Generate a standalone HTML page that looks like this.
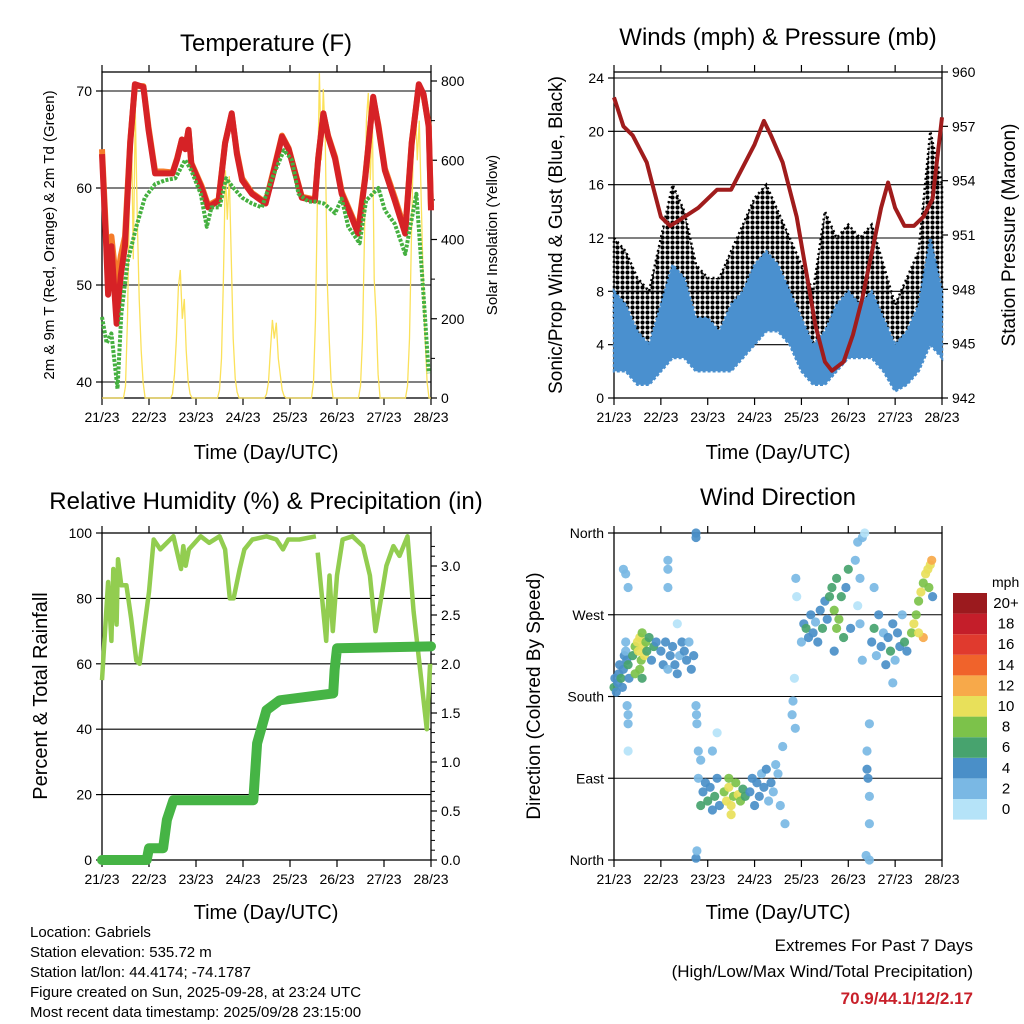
<!DOCTYPE html>
<html><head><meta charset="utf-8">
<style>
html,body{margin:0;padding:0;background:#fff;}
svg{display:block;font-family:"Liberation Sans",Arial,sans-serif;}
</style></head>
<body>
<svg id="chart" width="1024" height="1024" viewBox="0 0 1024 1024">
<defs>
<pattern id="gustdots" x="0" y="0" width="5" height="5" patternUnits="userSpaceOnUse">
<circle cx="2.5" cy="2.5" r="2.1" fill="#000"/>
</pattern>
</defs>
<rect x="0" y="0" width="1024" height="1024" fill="#fff"/>
<text x="266" y="51" font-size="24" text-anchor="middle">Temperature (F)</text>
<text x="778" y="45" font-size="24" text-anchor="middle">Winds (mph) &amp; Pressure (mb)</text>
<text x="266" y="509" font-size="24" text-anchor="middle">Relative Humidity (%) &amp; Precipitation (in)</text>
<text x="778" y="505" font-size="24" text-anchor="middle">Wind Direction</text>
<text x="266" y="459" font-size="20" text-anchor="middle">Time (Day/UTC)</text>
<text x="778" y="459" font-size="20" text-anchor="middle">Time (Day/UTC)</text>
<text x="266" y="919" font-size="20" text-anchor="middle">Time (Day/UTC)</text>
<text x="778" y="919" font-size="20" text-anchor="middle">Time (Day/UTC)</text>
<text transform="translate(54,235) rotate(-90)" font-size="15" text-anchor="middle">2m &amp; 9m T (Red, Orange) &amp; 2m Td (Green)</text>
<text transform="translate(497,235) rotate(-90)" font-size="15" text-anchor="middle">Solar Insolation (Yellow)</text>
<text transform="translate(562,235) rotate(-90)" font-size="19" text-anchor="middle">Sonic/Prop Wind &amp; Gust (Blue, Black)</text>
<text transform="translate(1015,235) rotate(-90)" font-size="19" text-anchor="middle">Station Pressure (Maroon)</text>
<text transform="translate(47,696) rotate(-90)" font-size="20" text-anchor="middle">Percent &amp; Total Rainfall</text>
<text transform="translate(540,696) rotate(-90)" font-size="19" text-anchor="middle">Direction (Colored By Speed)</text>
<g font-size="15">
<text x="30" y="937">Location: Gabriels</text>
<text x="30" y="957">Station elevation: 535.72 m</text>
<text x="30" y="977">Station lat/lon: 44.4174; -74.1787</text>
<text x="30" y="997">Figure created on Sun, 2025-09-28, at 23:24 UTC</text>
<text x="30" y="1017">Most recent data timestamp: 2025/09/28 23:15:00</text>
</g>
<text x="973" y="951" font-size="17" text-anchor="end">Extremes For Past 7 Days</text>
<text x="973" y="977" font-size="17" text-anchor="end">(High/Low/Max Wind/Total Precipitation)</text>
<text x="973" y="1004" font-size="17" font-weight="bold" fill="#c8202a" text-anchor="end">70.9/44.1/12/2.17</text>
</svg>
<script>
// ---------- DATA ----------
const dayLabels = ["21/23","22/23","23/23","24/23","25/23","26/23","27/23","28/23"];
const tempLeftTicks = [40,50,60,70];
const solarTicks = [0,200,400,600,800];
const tempT = [0,.09,.13,.2,.31,.4,.49,.6,.7,.88,.99,1.13,1.3,1.5,1.6,1.7,1.77,1.84,1.9,2.12,2.26,2.48,2.62,2.76,2.87,2.98,3.19,3.48,3.62,3.83,3.97,4.11,4.25,4.53,4.6,4.71,4.81,4.96,5.1,5.31,5.45,5.6,5.77,5.88,6.02,6.23,6.45,6.59,6.74,6.84,6.95,7.0];
const temp2m = [63.5,54,49,54,46,51,54,64.6,70.7,70.4,66,61.5,61.5,61.5,63,65,64,66,62.5,60,58,58.7,64.6,67.7,63.5,60.8,59.4,58.4,61,65.3,64,61.5,59,58.7,63,67.7,65.3,63,59.4,57,55.3,61,69.4,66.3,61.8,58.7,55.3,64.6,70.7,69.7,66.3,57.7];
const temp9m = [64,55,52,55,50,53,55,64.8,70.5,70.5,66.3,61.7,61.7,61.6,63.1,65,64.1,66,62.6,60.2,58.2,58.8,64.7,67.6,63.7,61,59.5,58.5,61.2,65.4,64.1,61.6,59.1,58.8,63.1,67.6,65.4,63.2,59.6,57.2,55.6,61.2,69.2,66.5,62,59,55.6,64.7,70.5,69.6,66.5,58];
const dewT = [0,.1,.2,.33,.41,.55,.73,.91,1.13,1.35,1.56,1.77,1.9,2.1,2.23,2.33,2.5,2.64,2.78,2.98,3.19,3.4,3.62,3.87,4.04,4.18,4.39,4.55,4.72,4.96,5.1,5.24,5.48,5.62,5.88,6.02,6.23,6.45,6.69,6.84,6.95];
const dewpoint = [46.7,44,45,39.3,47,52.5,56,59,60.4,60.8,61,62.9,61.8,59.4,56,58,58,61,60.1,59,58.4,58,61,63.9,62.9,59.4,58.6,58.6,58.4,57.4,58.9,56,54.3,58.7,60,57.7,56.3,53.2,59.4,49,40.9];
const solarByHour = [
0,0,0,0,0,0,0,0,0,0,0,0,30,200,500,700,350,727,450,250,120,40,0,0,
0,0,0,0,0,0,0,0,0,0,0,0,10,60,150,280,323,200,250,120,40,10,0,0,
0,0,0,0,0,0,0,0,0,0,0,0,20,100,300,575,450,560,350,150,50,15,0,0,
0,0,0,0,0,0,0,0,0,0,0,0,10,40,120,197,150,190,100,60,20,5,0,0,
0,0,0,0,0,0,0,0,0,0,0,0,40,200,500,820,600,780,650,300,150,40,0,0,
0,0,0,0,0,0,0,0,0,0,0,0,30,150,400,700,770,550,720,300,200,60,0,0,
0,0,0,0,0,0,0,0,0,0,0,0,30,150,400,650,752,600,700,500,300,150,40,0,0];
const windLeftTicks = [0,4,8,12,16,20,24];
const pressureTicks = [942,945,948,951,954,957,960];
const windT = [0,.25,.5,.75,1,1.25,1.5,1.75,2,2.25,2.5,2.75,3,3.25,3.5,3.75,4,4.25,4.5,4.75,5,5.25,5.5,5.75,6,6.25,6.5,6.75,7];
const windLo = [2,2,1,1,2,3,3,2,2,2,2,3,4,5,5,4,2,1,1,2,3,3,3,2,0.5,1,2,4,3];
const windHi = [8,7,5,4,7,10,9,6,6,5,7,8,10,11,10,8,6,4,5,7,8,7,8,6,4,5,7,12,8];
const gustHi = [12,11,9,8,12,16,14,10,9,9,11,13,15,16,14,12,10,8,14,12,13,12,13,10,7,9,11,20,16];
const presT = [0,.2,.4,.7,.85,1,1.2,1.5,1.8,2.2,2.5,2.8,3,3.2,3.35,3.6,3.9,4.1,4.3,4.5,4.65,4.9,5.1,5.3,5.5,5.7,5.85,6,6.2,6.4,6.6,6.8,7];
const pressure = [958.6,957,956.5,955,953.5,952,951.5,952,952.5,953.5,953.5,955,956,957.3,956.5,955,952,949,946,944,943.5,944,945.5,947.5,950,952.5,953.9,952.5,951.5,951.5,952,953,957.5];
const rhLeftTicks = [0,20,40,60,80,100];
const rainTicks = ["0.0","0.5","1.0","1.5","2.0","2.5","3.0"];
const rhT = [0,.13,.2,.24,.31,.34,.41,.52,.62,.73,.8,.9,1,1.1,1.24,1.52,1.68,1.73,1.78,1.85,2.1,2.28,2.5,2.62,2.72,2.8,2.93,3.03,3.2,3.5,3.71,3.85,3.96,4.2,4.55,null,4.59,4.77,4.84,4.91,5,5.12,5.33,5.55,5.7,5.82,5.95,6.05,6.2,6.33,6.5,6.63,6.77,6.91,6.98];
const rhV = [55,85,67,89,72,92,84,84,74,61,60,71,82,98,95,99,89,96,90,95,99,97,99,95,80,80,89,95,98,99,98,95,98,98,99,null,94,67,87,70,87,98,99,96,87,70,81,90,96,93,99,76,58,40,60];
const rainT = [0,.95,1.0,1.3,1.38,1.52,3.22,3.3,3.5,3.78,4.92,4.95,5.0,7.0];
const rain = [0,0,.12,.12,.41,.61,.61,1.19,1.53,1.63,1.70,1.94,2.16,2.18];
const dirLabels = ["North","East","South","West","North"];
const dirTime = [0,.02,.05,.08,.1,.12,.15,.18,.2,.22,.25,.27,.3,.32,.28,.3,.3,.3,.25,.4,.45,.5,.52,.55,.58,.6,.62,.65,.68,.7,.75,.8,.85,.9,.45,.55,.6,1,1.05,1.1,1.15,1.2,1.25,1.3,1.35,1.4,1.45,1.5,1.55,1.6,1.65,1.7,1.15,1.15,1.15,.25,.3,.2,1.35,1.75,1.76,1.77,1.75,1.75,1.75,1.77,1.8,1.85,1.9,1.95,2,2.05,2.1,2.15,2.2,2.25,1.85,1.8,2.2,2.1,2.35,2.4,2.45,2.5,2.55,2.6,2.65,2.7,2.75,2.8,2.5,2.45,2.9,2.95,3,3.05,3.1,3.15,3.2,3.25,3.3,3.35,3.4,3.45,3.5,3.55,3.6,3.65,3.8,3.82,3.85,3.87,3.88,3.9,4,4.05,4.1,4.15,4.2,4.25,4.3,4.35,4.4,4.45,4.5,4.55,4.6,4.65,4.7,4.75,4.8,4.85,4.9,4.95,5,5.05,4.75,4.7,5.15,5.2,5.25,5.2,5.25,5.3,5.35,5.3,5.4,5.42,5.45,5.4,5.45,5.45,5.38,5.45,5.5,5.55,5.6,5.65,5.7,5.75,5.8,5.85,5.9,5.95,6,6.05,6.1,6.15,6.2,6.25,5.95,5.55,6.35,6.4,6.45,6.5,6.55,6.6,6.65,6.7,6.72,6.75,6.78,6.6,6.5,6.8];
const dirDeg = [190,200,185,195,205,215,200,190,210,225,230,220,215,200,170,160,150,120,240,225,235,240,230,245,220,250,235,225,240,230,245,220,235,240,205,210,200,230,215,240,210,225,235,215,205,225,240,230,220,240,210,225,330,320,300,315,300,320,260,170,160,150,355,360,2,10,90,60,75,85,65,80,55,70,90,60,110,120,140,120,75,65,80,60,70,85,72,65,78,70,50,90,75,90,60,85,70,95,80,100,65,85,75,105,95,60,125,40,160,175,200,145,310,290,240,260,255,245,270,250,262,240,275,255,285,265,290,300,275,310,265,290,245,300,320,255,255,230,330,350,310,280,260,355,360,220,100,90,70,120,40,0,5,150,240,255,225,270,235,250,215,245,230,260,220,250,235,270,240,230,195,300,250,260,270,285,295,305,315,320,300,325,330,245,250,290];
const dirSpeed = [6,5,4,5,4,5,6,4,5,4,3,5,6,4,3,2,2,1,3,7,8,10,11,10,9,8,11,10,8,7,6,5,6,5,8,9,7,4,4,5,3,4,4,5,4,3,4,5,4,3,4,5,2,2,2,3,2,2,1,3,3,2,5,4,4,3,3,7,5,4,6,5,4,6,4,5,2,2,1,2,9,10,11,10,9,8,10,8,7,6,11,8,5,4,5,4,4,3,5,4,3,4,3,3,2,3,2,2,2,2,1,3,2,1,3,4,6,4,5,4,3,5,4,6,5,4,7,6,8,7,8,6,7,5,6,4,9,4,2,2,2,1,2,2,1,3,4,4,3,2,3,3,2,3,4,6,3,4,5,3,4,5,6,4,3,5,4,3,6,4,2,2,8,10,9,8,10,9,11,10,8,11,13,13,10,5];
const speedLabels = ["0","2","4","6","8","10","12","14","16","18","20+"];
const speedColors = ["#b5e3f8","#7ab8e4","#4a8fc8","#47a36e","#7cc24a","#e8e05a","#f7a94a","#f0632b","#e03a2e","#c41e2a","#9b1a1e"];

// ---------- HELPERS ----------
const NS="http://www.w3.org/2000/svg";
const svg=document.getElementById("chart");
function mk(tag,attrs,parent){const e=document.createElementNS(NS,tag);for(const k in attrs)e.setAttribute(k,attrs[k]);(parent||svg).appendChild(e);return e;}
function lin(d0,d1,r0,r1){return v=>r0+(v-d0)*(r1-r0)/(d1-d0);}
function pathFrom(xs,ys,fx,fy){let d="",pen=false;for(let i=0;i<xs.length;i++){if(xs[i]===null||ys[i]===null){pen=false;continue;}d+=(pen?"L":"M")+fx(xs[i]).toFixed(1)+","+fy(ys[i]).toFixed(1);pen=true;}return d;}

function frame(x0,y0,x1,y1,name,xs){
  const g=mk("g",{});
  
  
  const r=mk("rect",{x:x0,y:y0,width:x1-x0,height:y1-y0,fill:"none",stroke:"#000","stroke-width":1.3},g);
  
  
  dayLabels.forEach((lab,i)=>{
    const x=xs(i);
    mk("line",{x1:x,x2:x,y1:y1,y2:y1+7,stroke:"#000","stroke-width":1.2},g);
    mk("line",{x1:x,x2:x,y1:y0,y2:y0-7,stroke:"#000","stroke-width":1.2},g);
    const t=mk("text",{x:x,y:y1+24,"font-size":14,"text-anchor":"middle"},g);
    t.textContent=lab;
    
    
  });
  return g;
}
function yTicks(g,vals,labels,fy,x,side,name,grid,x0,x1){
  vals.forEach((v,i)=>{
    const y=fy(v);
    if(grid){const l=mk("line",{x1:x0,x2:x1,y1:y,y2:y,stroke:"#000","stroke-width":1.1},g);
      
      }
    mk("line",{x1:x,x2:x+(side<0?-6:6),y1:y,y2:y,stroke:"#000","stroke-width":1.2},g);
    const t=mk("text",{x:x+(side<0?-10:10),y:y+5,"font-size":14,"text-anchor":side<0?"end":"start"},g);
    t.textContent=labels[i];
    
    
  });
}

// ---------- PANEL 1: TEMPERATURE ----------
(function(){
  const x0=102,x1=431,y0=72,y1=398;
  const fx=lin(0,7,x0,x1), fy=lin(40,70,382,91), fs=lin(0,800,398,81);
  const g=frame(x0,y0,x1,y1,"temperature",fx);
  yTicks(g,tempLeftTicks,tempLeftTicks.map(String),fy,x0,-1,"temperature-y",true,x0,x1);
  yTicks(g,solarTicks,solarTicks.map(String),fs,x1,1,"solar-y",false);
  for(let v=100;v<800;v+=200){mk("line",{x1:x1,x2:x1+4,y1:fs(v),y2:fs(v),stroke:"#000"},g);}
  const sx=solarByHour.map((v,i)=>i/24);
  const s=mk("path",{d:pathFrom(sx,solarByHour,fx,fs),fill:"none",stroke:"#fbe15a","stroke-width":1.3});
  
  
  const o=mk("path",{d:pathFrom(tempT,temp9m,fx,fy),fill:"none",stroke:"#f57c2a","stroke-width":6,"stroke-linejoin":"round"});
  
  
  const r=mk("path",{d:pathFrom(tempT,temp2m,fx,fy),fill:"none",stroke:"#d62226","stroke-width":6,"stroke-linejoin":"round"});
  
  
  const d=mk("path",{d:pathFrom(dewT,dewpoint,fx,fy),fill:"none",stroke:"#45b040","stroke-width":4,"stroke-dasharray":"3 1.5","stroke-linejoin":"round"});
  
  
})();

// ---------- PANEL 2: WINDS ----------
(function(){
  const x0=614,x1=942,y0=72,y1=398;
  const fx=lin(0,7,x0,x1), fy=lin(0,24,398,78), fp=lin(942,960,398,72);
  const g=frame(x0,y0,x1,y1,"winds",fx);
  yTicks(g,windLeftTicks,windLeftTicks.map(String),fy,x0,-1,"wind-y",true,x0,x1);
  yTicks(g,pressureTicks,pressureTicks.map(String),fp,x1,1,"pressure-y",false);
  let d="M"+windT.map((t,i)=>fx(t).toFixed(1)+","+fy(gustHi[i]).toFixed(1)).join("L");
  for(let i=windT.length-1;i>=0;i--) d+="L"+fx(windT[i]).toFixed(1)+","+fy(Math.max(0,windHi[i]-2)).toFixed(1);
  const gb=mk("path",{d:d+"Z",fill:"url(#gustdots)",stroke:"#000","stroke-width":2.5,"stroke-dasharray":"2 3"});
  
  
  let d2="M"+windT.map((t,i)=>fx(t).toFixed(1)+","+fy(windHi[i]).toFixed(1)).join("L");
  for(let i=windT.length-1;i>=0;i--) d2+="L"+fx(windT[i]).toFixed(1)+","+fy(windLo[i]).toFixed(1);
  const wb=mk("path",{d:d2+"Z",fill:"#4a90cf",stroke:"#4a90cf","stroke-width":2.5,"stroke-dasharray":"3 2"});
  
  
  const p=mk("path",{d:pathFrom(presT,pressure,fx,fp),fill:"none",stroke:"#a01c1c","stroke-width":4,"stroke-linejoin":"round"});
  
  
})();

// ---------- PANEL 3: RH & PRECIP ----------
(function(){
  const x0=102,x1=431,y0=533,y1=860;
  const fx=lin(0,7,x0,x1), fy=lin(0,100,860,533), fr=lin(0,1,860,762);
  const g=frame(x0,y0,x1,y1,"humidity",fx);
  yTicks(g,rhLeftTicks.slice(0,5),rhLeftTicks.slice(0,5).map(String),fy,x0,-1,"humidity-y",true,x0,x1);
  yTicks(g,[100],["100"],fy,x0,-1,"humidity-y",false);
  yTicks(g,rainTicks.map(Number),rainTicks,fr,x1,1,"rain-y",false);
  for(let v=0.1;v<3.3;v+=0.1){mk("line",{x1:x1,x2:x1+4,y1:fr(v),y2:fr(v),stroke:"#000"},g);}
  const h=mk("path",{d:pathFrom(rhT,rhV,fx,fy),fill:"none",stroke:"#92cd50","stroke-width":4.5,"stroke-linejoin":"round"});
  
  
  const r=mk("path",{d:pathFrom(rainT,rain,fx,fr),fill:"none",stroke:"#46b445","stroke-width":10,"stroke-linejoin":"round","stroke-linecap":"round"});
  
  
})();

// ---------- PANEL 4: WIND DIRECTION ----------
(function(){
  const x0=614,x1=942,y0=533,y1=860;
  const fx=lin(0,7,x0,x1), fy=lin(0,360,860,533);
  const g=frame(x0,y0,x1,y1,"direction",fx);
  yTicks(g,[0,90,180,270,360],dirLabels,fy,x0,-1,"direction-y",true,x0,x1);
  dirTime.forEach((t,i)=>{
    const ci=Math.min(10,Math.floor(dirSpeed[i]/2));
    const c=mk("circle",{cx:fx(t).toFixed(1),cy:fy(dirDeg[i]).toFixed(1),r:4.6,fill:speedColors[ci],"fill-opacity":0.92});
    
    
  });
  const lg=mk("g",{});
  
  
  const u=mk("text",{x:992,y:587,"font-size":14},lg);
  u.textContent="mph";
  
  
  for(let i=0;i<11;i++){
    const y=593+(10-i)*20.6;
    const b=mk("rect",{x:953,y:y,width:34,height:20.6,fill:speedColors[i]},lg);
    
    
    const t=mk("text",{x:1006,y:y+15,"font-size":15,"text-anchor":"middle"},lg);
    t.textContent=speedLabels[i];
    
    
  }
})();
</script>
</body></html>
